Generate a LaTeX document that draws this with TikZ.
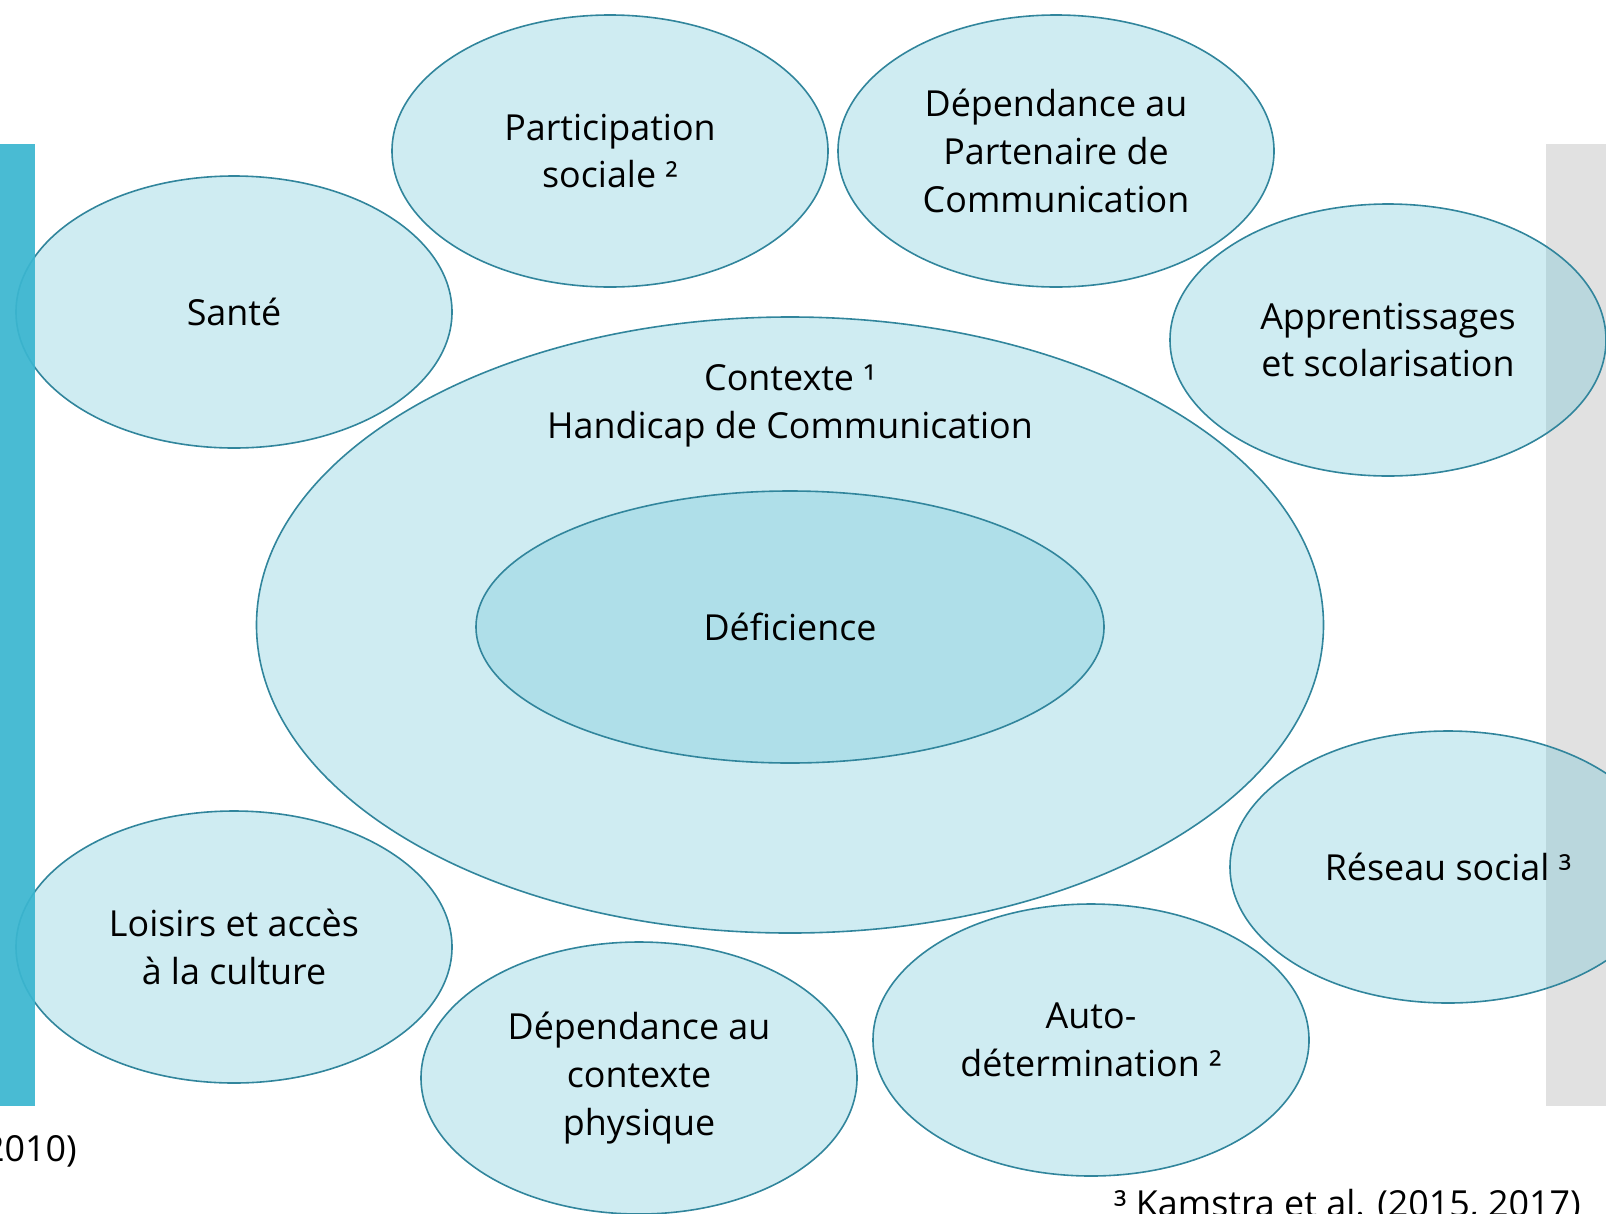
\documentclass[tikz,border=0pt]{standalone}
\usepackage{fontspec}
\setmainfont{Open Sans}
\usetikzlibrary{shapes.geometric}
\definecolor{bubblefill}{HTML}{6DC5D7}
\definecolor{bubbleline}{HTML}{31859C}
\definecolor{barblue}{HTML}{3BB6D0}
\definecolor{bargray}{HTML}{E1E1E1}
\begin{document}
\begin{tikzpicture}[
		x=1bp, y=-1bp,
		bubble/.style={
			ellipse,
			draw=bubbleline,
			line width=1.6bp,
			fill=bubblefill,
			fill opacity=0.33,
			text opacity=1,
			inner sep=0pt,
			minimum width=436bp,
			minimum height=272bp,
			align=center,
			font=\fontsize{36}{48}\selectfont
		},
		plain/.style={
			draw=none,
			fill=none,
			inner sep=0pt,
			align=center,
			font=\fontsize{36}{48}\selectfont
		}
		]
		\useasboundingbox (0,0) rectangle (1606,1213);
		% side bar
		\fill[bargray] (1546,144) rectangle (1606,1106);
		% centre
		\node[bubble, minimum width=1067bp, minimum height=616bp] (contexte) at (790,625) {};
		\node[bubble, minimum width=628bp] (deficience) at (790,627) {Déficience};
		\node[plain] (contexte-lbl) at (790,406) {Contexte ¹\\Handicap de Communication};
		% bubbles round the centre
		\foreach \px/\py/\nm/\txt in {
				234/312/sante/{Santé},
				610/151/participation/{Participation\\sociale ²},
				1056/151/partenaire/{Dépendance au\\Partenaire de\\Communication},
				1388/340/apprentissages/{Apprentissages\\et scolarisation},
				1448/867/reseau/{Réseau social ³},
				1091/1040/autodet/{Auto-\\détermination ²},
				639/1078/physique/{Dépendance au\\contexte\\physique},
				234/947/loisirs/{Loisirs et accès\\à la culture}}
			\node[bubble] (\nm) at (\px,\py) {\txt};
		% side bar
		\fill[barblue, opacity=0.93] (0,144) rectangle (35,1106);
		% references
		\node[plain, anchor=base east] (ref-left) at (77,1161) {(2010)};
		\node[plain, anchor=base west] (ref-right) at (1114,1216) {³ Kamstra et al. (2015, 2017)};
\end{tikzpicture}
\end{document}
